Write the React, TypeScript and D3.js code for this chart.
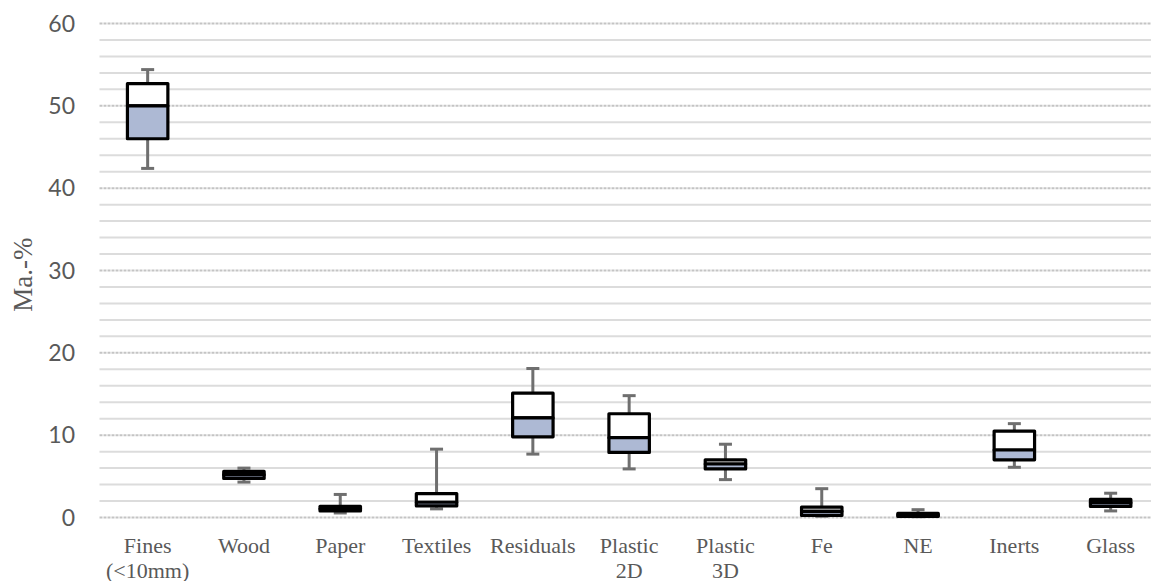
import React, { useEffect, useRef } from "react";
import { select, scaleBand, scaleLinear, range } from "d3";

// categories along the x axis
const categories = [
  "Fines\n(<10mm)",
  "Wood",
  "Paper",
  "Textiles",
  "Residuals",
  "Plastic\n2D",
  "Plastic\n3D",
  "Fe",
  "NE",
  "Inerts",
  "Glass",
];

// box plot statistics (Ma.-%)
const whiskerMax = [54.4, 6.0, 2.8, 8.3, 18.1, 14.8, 8.9, 3.5, 0.95, 11.4, 2.95];
const q3 = [52.7, 5.6, 1.35, 2.9, 15.1, 12.6, 7.0, 1.25, 0.5, 10.5, 2.2];
const median = [50.0, 5.2, 1.05, 1.85, 12.1, 9.7, 6.5, 0.75, 0.3, 8.2, 1.8];
const q1 = [46.0, 4.75, 0.8, 1.4, 9.8, 7.9, 5.9, 0.25, 0.12, 7.0, 1.35];
const whiskerMin = [42.4, 4.3, 0.55, 1.05, 7.7, 5.9, 4.6, 0.15, 0.1, 6.1, 0.8];

const yTicks = [0, 10, 20, 30, 40, 50, 60];
const yTitle = "Ma.-%";

const WIDTH = 1151;
const HEIGHT = 581;
const SERIF = '"Liberation Serif", "DejaVu Serif", "Noto Serif", Times, serif';

function BoxPlotChart() {
  const svgRef = useRef(null);

  useEffect(() => {
    const svg = select(svgRef.current);
    svg.selectAll("*").remove();

    const data = categories.map((name, i) => ({
      name,
      max: whiskerMax[i],
      q3: q3[i],
      median: median[i],
      q1: q1[i],
      min: whiskerMin[i],
    }));

    const left = 99.5;
    const step = 96.3;

    const xScale = scaleBand()
      .domain(categories)
      .range([left, left + step * categories.length])
      .paddingInner(0)
      .paddingOuter(0);

    const yScale = scaleLinear().domain([0, 60]).range([517.5, 23.5]);

    const boxWidth = xScale.bandwidth() * 0.42;
    const capWidth = 13;
    const center = (d) => xScale(d.name) + xScale.bandwidth() / 2;

    // gridlines: minor every 2, major every 10
    const grid = svg.append("g");
    grid
      .selectAll("line")
      .data(range(0, 61, 2))
      .join("line")
      .attr("x1", left)
      .attr("x2", WIDTH)
      .attr("y1", (d) => yScale(d))
      .attr("y2", (d) => yScale(d))
      .attr("stroke", (d) => (d % 10 === 0 ? "#c4c4c4" : "#dcdcdc"))
      .attr("stroke-width", 2)
      .attr("stroke-dasharray", (d) => (d % 10 === 0 ? "3,1" : null));

    // y tick labels
    svg
      .append("g")
      .selectAll("text")
      .data(yTicks)
      .join("text")
      .attr("x", 75)
      .attr("y", (d) => yScale(d))
      .attr("dy", "0.36em")
      .attr("text-anchor", "end")
      .style("font-family", "Lato, sans-serif")
      .style("font-size", "23px")
      .attr("fill", "#595959")
      .text((d) => d);

    // y axis title
    svg
      .append("text")
      .attr("transform", `translate(32, ${yScale(29.5)}) rotate(-90)`)
      .attr("text-anchor", "middle")
      .style("font-family", SERIF)
      .style("font-size", "27px")
      .attr("fill", "#595959")
      .text(yTitle);

    // whiskers
    const whiskers = svg.append("g").attr("stroke", "#6f6f6f").attr("stroke-width", 3);
    whiskers
      .selectAll(".upper")
      .data(data)
      .join("line")
      .attr("class", "upper")
      .attr("x1", center)
      .attr("x2", center)
      .attr("y1", (d) => yScale(d.q3))
      .attr("y2", (d) => yScale(d.max));
    whiskers
      .selectAll(".lower")
      .data(data)
      .join("line")
      .attr("class", "lower")
      .attr("x1", center)
      .attr("x2", center)
      .attr("y1", (d) => yScale(d.q1))
      .attr("y2", (d) => yScale(d.min));
    whiskers
      .selectAll(".capTop")
      .data(data)
      .join("line")
      .attr("class", "capTop")
      .attr("x1", (d) => center(d) - capWidth / 2)
      .attr("x2", (d) => center(d) + capWidth / 2)
      .attr("y1", (d) => yScale(d.max))
      .attr("y2", (d) => yScale(d.max));
    whiskers
      .selectAll(".capBottom")
      .data(data)
      .join("line")
      .attr("class", "capBottom")
      .attr("x1", (d) => center(d) - capWidth / 2)
      .attr("x2", (d) => center(d) + capWidth / 2)
      .attr("y1", (d) => yScale(d.min))
      .attr("y2", (d) => yScale(d.min));

    // boxes: white upper half, blue lower half
    const boxes = svg
      .append("g")
      .attr("stroke", "#000")
      .attr("stroke-width", 3.2)
      .attr("stroke-linejoin", "round");
    boxes
      .selectAll(".upperBox")
      .data(data)
      .join("rect")
      .attr("class", "upperBox")
      .attr("x", (d) => center(d) - boxWidth / 2)
      .attr("width", boxWidth)
      .attr("y", (d) => yScale(d.q3))
      .attr("height", (d) => yScale(d.median) - yScale(d.q3))
      .attr("fill", "#ffffff");
    boxes
      .selectAll(".lowerBox")
      .data(data)
      .join("rect")
      .attr("class", "lowerBox")
      .attr("x", (d) => center(d) - boxWidth / 2)
      .attr("width", boxWidth)
      .attr("y", (d) => yScale(d.median))
      .attr("height", (d) => yScale(d.q1) - yScale(d.median))
      .attr("fill", "#adb9d4");

    // category labels
    const labels = svg
      .append("g")
      .selectAll("text")
      .data(data)
      .join("text")
      .attr("x", center)
      .attr("y", 553)
      .attr("text-anchor", "middle")
      .style("font-family", SERIF)
      .style("font-size", "22px")
      .attr("fill", "#595959");
    labels
      .selectAll("tspan")
      .data((d) => d.name.split("\n"))
      .join("tspan")
      .attr("x", function () {
        return select(this.parentNode).attr("x");
      })
      .attr("dy", (d, i) => (i === 0 ? 0 : 24.5))
      .text((d) => d);
  }, []);

  return (
    <svg
      ref={svgRef}
      width={WIDTH}
      height={HEIGHT}
      style={{ position: "absolute", left: 0, top: 0, background: "#fff" }}
    ></svg>
  );
}

export default function App() {
  return <BoxPlotChart />;
}
